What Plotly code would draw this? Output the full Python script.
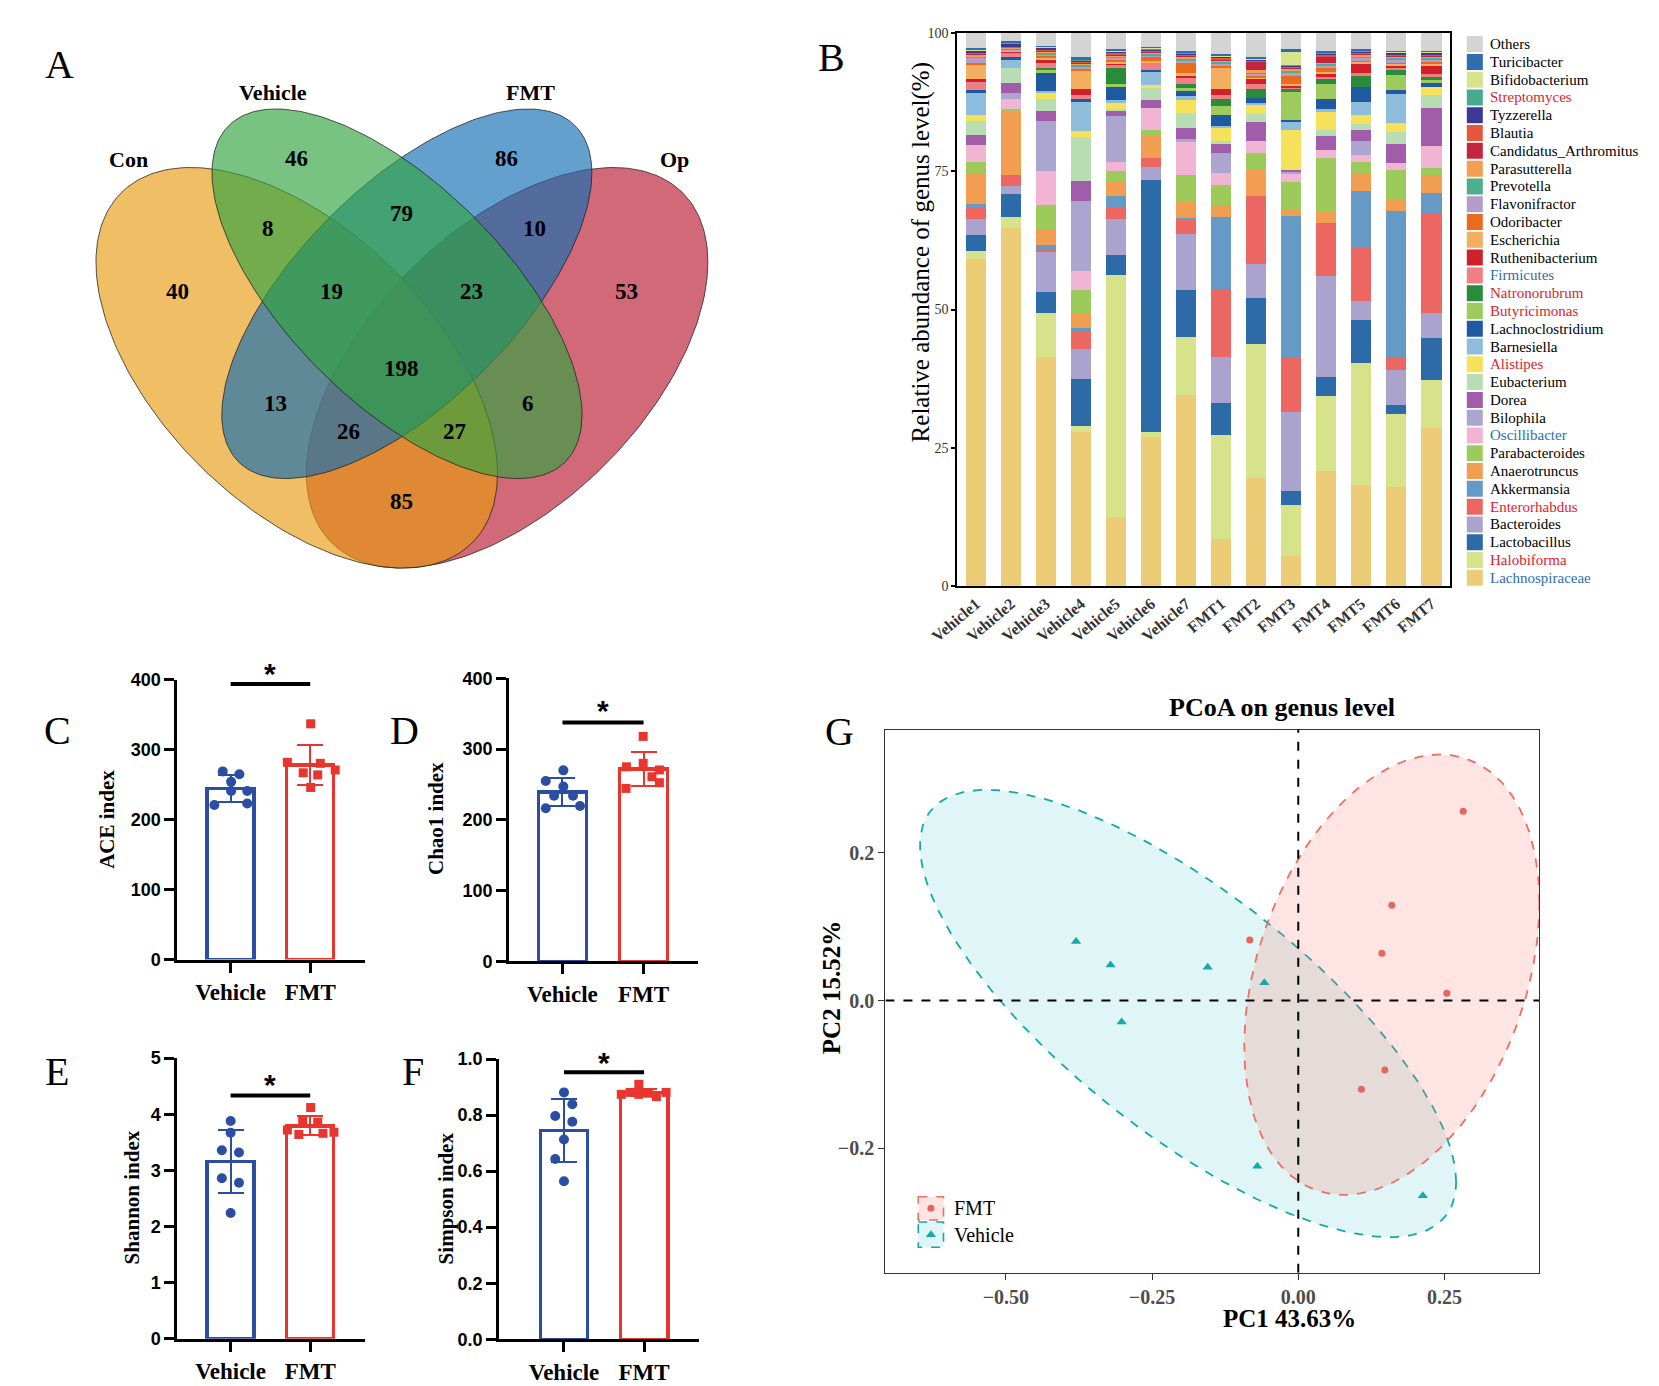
import numpy as np
import plotly.graph_objects as go

W, H = 1659, 1386
SERIF = "Liberation Serif"
SANS = "Liberation Sans"


def fx(p):
    return p / W


def fy(p):
    return 1 - p / H


def to_paper(v, dom, rng):
    return dom[0] + (v - rng[0]) / (rng[1] - rng[0]) * (dom[1] - dom[0])


# ======================= DATA =======================
# ---- Panel A : Venn diagram ----
venn_sets = ["Con", "Vehicle", "FMT", "Op"]
venn_regions = ["Con", "Vehicle", "FMT", "Op", "Con&Vehicle", "Vehicle&FMT", "FMT&Op",
                "Con&Vehicle&FMT", "Vehicle&FMT&Op", "All", "Con&FMT", "Vehicle&Op",
                "Con&FMT&Op", "Con&Vehicle&Op", "Con&Op"]
venn_counts = [40, 46, 86, 53, 8, 79, 10, 19, 23, 198, 13, 6, 26, 27, 85]

# ---- Panel B : genus-level relative abundance (%) ----
samples = ["Vehicle1", "Vehicle2", "Vehicle3", "Vehicle4", "Vehicle5", "Vehicle6", "Vehicle7",
           "FMT1", "FMT2", "FMT3", "FMT4", "FMT5", "FMT6", "FMT7"]
lachnospiraceae = [59.2, 64.7, 41.5, 27.8, 12.5, 27.0, 34.6, 8.6, 19.6, 5.4, 20.8, 18.4, 17.9, 28.6]
halobiforma = [1.3, 2.0, 7.8, 1.1, 43.7, 0.8, 10.5, 18.8, 24.2, 9.3, 13.5, 22.0, 13.2, 8.7]
lactobacillus = [2.9, 4.2, 3.8, 8.5, 3.7, 45.6, 8.5, 5.8, 8.3, 2.5, 3.5, 7.8, 1.6, 7.6]
bacteroides = [3.0, 1.5, 7.3, 5.5, 6.4, 2.4, 10.0, 8.3, 6.1, 14.3, 18.3, 3.3, 6.4, 4.4]
enterorhabdus = [2.2, 2.0, 0.6, 3.4, 2.2, 1.6, 2.5, 12.2, 12.4, 9.7, 9.6, 9.6, 2.1, 17.9]
akkermansia = [0.4, 0.0, 0.7, 0.3, 2.1, 0.0, 0.4, 13.0, 0.0, 25.7, 0.0, 10.3, 26.6, 3.9]
anaerotruncus = [5.6, 11.4, 2.7, 2.6, 2.4, 4.0, 3.1, 2.2, 4.7, 1.1, 2.0, 3.2, 2.0, 3.2]
parabacteroides = [2.0, 0.5, 4.5, 4.4, 2.0, 1.0, 4.8, 3.6, 2.9, 5.1, 9.6, 2.0, 5.5, 1.3]
oscillibacter = [3.2, 1.7, 6.1, 3.3, 1.6, 4.0, 5.9, 2.2, 2.2, 1.6, 1.6, 1.4, 1.2, 4.0]
bilophila = [0.0, 1.2, 9.0, 12.7, 8.4, 0.0, 0.6, 3.5, 0.0, 0.2, 0.0, 2.5, 0.0, 0.0]
dorea = [1.7, 1.7, 1.8, 3.7, 1.0, 1.5, 1.9, 1.7, 3.5, 0.3, 2.5, 1.9, 3.5, 6.8]
eubacterium = [2.6, 2.8, 2.2, 7.8, 0.3, 2.1, 2.8, 0.6, 1.5, 0.0, 1.0, 1.2, 2.1, 2.4]
alistipes = [1.1, 0.0, 1.2, 1.1, 1.1, 0.6, 2.3, 2.4, 1.5, 7.3, 3.5, 1.5, 1.6, 1.4]
barnesiella = [3.9, 1.6, 0.2, 5.3, 0.4, 2.3, 0.6, 0.2, 0.4, 1.4, 0.3, 2.4, 5.2, 0.0]
lachnoclostridium = [0.5, 0.3, 3.4, 0.5, 2.4, 0.4, 1.2, 2.0, 1.0, 0.4, 1.8, 2.7, 0.7, 0.9]
butyricimonas = [0.0, 0.0, 0.5, 0.0, 0.5, 0.0, 0.3, 1.7, 0.0, 5.0, 2.8, 0.0, 2.7, 0.3]
natronorubrum = [0.0, 0.0, 0.4, 0.0, 3.0, 0.0, 0.7, 1.3, 1.6, 0.6, 0.9, 2.0, 1.0, 0.6]
firmicutes = [1.5, 0.9, 0.9, 0.8, 0.4, 1.4, 1.1, 0.6, 0.8, 0.3, 0.3, 0.5, 0.4, 0.5]
ruthenibacterium = [0.5, 0.2, 0.6, 1.0, 0.4, 0.0, 0.6, 1.2, 1.0, 0.3, 0.6, 1.8, 0.4, 1.7]
escherichia = [2.7, 0.1, 0.3, 3.5, 0.3, 0.2, 0.3, 3.9, 0.3, 0.3, 0.3, 0.3, 0.3, 0.3]
odoribacter = [0.3, 0.1, 0.4, 0.2, 0.4, 0.8, 1.8, 0.3, 0.3, 1.6, 0.8, 0.3, 0.3, 0.3]
flavonifractor = [0.8, 0.1, 0.3, 0.3, 0.3, 0.3, 0.4, 0.3, 0.3, 0.3, 0.3, 0.3, 0.3, 0.3]
prevotella = [0.4, 0.2, 0.3, 0.5, 0.3, 0.3, 0.5, 0.4, 0.3, 0.5, 0.4, 0.4, 0.5, 0.4]
parasutterella = [0.3, 0.1, 0.2, 0.2, 0.2, 0.2, 0.3, 0.3, 0.3, 0.3, 0.2, 0.3, 0.3, 0.3]
candidatus_arthromitus = [0.2, 0.1, 0.2, 0.2, 0.2, 0.2, 0.2, 0.2, 1.6, 0.2, 1.0, 0.2, 0.2, 0.2]
blautia = [0.2, 0.1, 0.2, 0.2, 0.2, 0.2, 0.2, 0.2, 0.2, 0.2, 0.5, 0.2, 0.2, 0.2]
tyzzerella = [0.3, 0.6, 0.2, 0.2, 0.2, 0.2, 0.2, 0.2, 0.2, 0.2, 0.2, 0.2, 0.2, 0.2]
streptomyces = [0.1, 0.1, 0.1, 0.1, 0.1, 0.1, 0.1, 0.1, 0.1, 0.1, 0.1, 0.1, 0.1, 0.1]
bifidobacterium = [0.1, 0.1, 0.1, 0.1, 0.1, 0.1, 0.1, 0.1, 0.1, 2.4, 0.1, 0.1, 0.1, 0.1]
turicibacter = [0.3, 0.2, 0.2, 0.3, 0.2, 0.2, 0.2, 0.2, 0.2, 0.4, 0.2, 0.2, 0.2, 0.2]
others = [2.7, 1.5, 2.3, 4.4, 3.0, 2.5, 3.2, 3.9, 4.4, 3.0, 3.3, 2.9, 3.2, 3.2]

# stacking order, bottom -> top
genus_names = ["Lachnospiraceae", "Halobiforma", "Lactobacillus", "Bacteroides", "Enterorhabdus",
               "Akkermansia", "Anaerotruncus", "Parabacteroides", "Oscillibacter", "Bilophila",
               "Dorea", "Eubacterium", "Alistipes", "Barnesiella", "Lachnoclostridium",
               "Butyricimonas", "Natronorubrum", "Firmicutes", "Ruthenibacterium", "Escherichia",
               "Odoribacter", "Flavonifractor", "Prevotella", "Parasutterella",
               "Candidatus_Arthromitus", "Blautia", "Tyzzerella", "Streptomyces",
               "Bifidobacterium", "Turicibacter", "Others"]
genus_values = [lachnospiraceae, halobiforma, lactobacillus, bacteroides, enterorhabdus,
                akkermansia, anaerotruncus, parabacteroides, oscillibacter, bilophila,
                dorea, eubacterium, alistipes, barnesiella, lachnoclostridium,
                butyricimonas, natronorubrum, firmicutes, ruthenibacterium, escherichia,
                odoribacter, flavonifractor, prevotella, parasutterella,
                candidatus_arthromitus, blautia, tyzzerella, streptomyces,
                bifidobacterium, turicibacter, others]

# ---- Panels C-F : alpha diversity (individual samples) ----
groups = ["Vehicle", "FMT"]
ace_vehicle = [269, 265, 254, 241, 241, 221, 223]
ace_fmt = [337, 282, 280.5, 267, 271, 264, 246]
chao1_vehicle = [270, 255, 247, 234, 234, 216.5, 219.6]
chao1_fmt = [318, 275, 280, 270.6, 261, 244.5, 252.5]
shannon_vehicle = [3.88, 3.67, 3.36, 3.32, 2.86, 2.78, 2.24]
shannon_fmt = [4.12, 3.88, 3.86, 3.72, 3.68, 3.64, 3.66]
simpson_vehicle = [0.881, 0.839, 0.797, 0.776, 0.713, 0.643, 0.564]
simpson_fmt = [0.910, 0.874, 0.881, 0.878, 0.881, 0.866, 0.874]

# ---- Panel G : PCoA coordinates ----
pc1_fmt = [-0.083, 0.160, 0.143, 0.254, 0.148, 0.108, 0.282]
pc2_fmt = [0.082, 0.129, 0.064, 0.010, -0.094, -0.120, 0.256]
pc1_vehicle = [-0.380, -0.321, -0.155, -0.302, -0.058, -0.070, 0.213]
pc2_vehicle = [0.080, 0.048, 0.045, -0.029, 0.024, -0.224, -0.264]

# ======================= STYLE / GEOMETRY =======================
genus_colors = ["#EDCC78", "#D6E38A", "#2D6AA8", "#AAA3CE", "#EC6761", "#6599C6", "#F29E52",
                "#9CCB5B", "#F1B5D3", "#ABA5CF", "#A15DA9", "#B9DDB3", "#F6E15A", "#8EBCDB",
                "#1F5AA0", "#9DCB5D", "#2A8C3B", "#EE8085", "#D0202A", "#F3AE60", "#EA6A1E",
                "#B49DCB", "#4CAF8E", "#F29F53", "#C3253F", "#E4573C", "#3C3893", "#47A98E",
                "#D8E48B", "#2E6DAE", "#D4D4D4"]
RED_TXT, BLUE_TXT = "#E3222A", "#2C6DB4"
label_color = {"Streptomyces": RED_TXT, "Natronorubrum": RED_TXT, "Butyricimonas": RED_TXT,
               "Alistipes": RED_TXT, "Enterorhabdus": RED_TXT, "Halobiforma": RED_TXT,
               "Firmicutes": BLUE_TXT, "Oscillibacter": BLUE_TXT, "Lachnospiraceae": BLUE_TXT}

# Venn ellipses: centre and shape matrix in figure pixels (y downward)
VENN_GEOM = {
    "Con": (265.2, 354.9, 41700, 41290, 21900),
    "Vehicle": (367.2, 279.8, 35420, 35160, 23100),
    "FMT": (377.2, 279.8, 35420, 35160, -23100),
    "Op": (479.2, 354.9, 41700, 41290, -21900),
}
VENN_FILL = {"Con": "rgba(232,155,17,0.65)", "Vehicle": "rgba(48,163,63,0.65)",
             "FMT": "rgba(17,109,178,0.65)", "Op": "rgba(186,25,48,0.65)"}
VENN_DRAW_ORDER = ["Op", "Con", "FMT", "Vehicle"]
VENN_REGION_XY = [(143.5, 278), (264.6, 142.4), (478.5, 142.4), (600.5, 278),
                  (235.9, 213.5), (372.2, 198.8), (507.2, 213.5), (300.5, 278),
                  (442.6, 278), (372.2, 355.5), (243.1, 391.2), (500.0, 391.2),
                  (318.2, 419.7), (425.8, 419.7), (372.2, 490.2)]
VENN_SET_XY = [(94.3, 143.1), (240.7, 75.4), (503.3, 75.4), (649.3, 143.1)]

BLUE_G, RED_G = "#2B4DA2", "#E8362F"
TEAL, SALMON = "#17A9A9", "#E4675E"

# PCoA 95% ellipses: centre and shape matrix in data units
PCOA_ELL = {
    "Vehicle": (-0.1885, -0.0175, 0.2102, 0.0915, -0.1043),
    "FMT": (0.160, 0.035, 0.0637, 0.0887, 0.0244),
}


def ellipse_xy(cx, cy, sxx, syy, sxy, n=240):
    t = np.linspace(0, 2 * np.pi, n)
    l11 = np.sqrt(sxx)
    l21 = sxy / l11
    l22 = np.sqrt(syy - l21 ** 2)
    return cx + l11 * np.cos(t), cy + l21 * np.cos(t) + l22 * np.sin(t)


fig = go.Figure()
annotations = []
shapes = []
axes = {}


def paper_text(x, y, text, size, family=SERIF, angle=0, color="black"):
    annotations.append(dict(x=fx(x), y=fy(y), xref="paper", yref="paper", text=text,
                            textangle=angle, showarrow=False, xanchor="center", yanchor="middle",
                            font=dict(family=family, size=size, color=color)))


def hidden_axis(domain, rng, anchor):
    return dict(domain=domain, range=rng, anchor=anchor, visible=False, fixedrange=True,
                showgrid=False, zeroline=False)


# ======================= PANEL A =======================
axes["xaxis"] = hidden_axis([0, fx(750)], [0, 750], "y")
axes["yaxis"] = hidden_axis([fy(580), fy(40)], [580, 40], "x")
for s in VENN_DRAW_ORDER:
    ex, ey = ellipse_xy(*VENN_GEOM[s])
    fig.add_trace(go.Scatter(x=ex, y=ey, mode="lines", fill="toself", fillcolor=VENN_FILL[s],
                             line=dict(color="rgba(30,30,30,0.75)", width=1),
                             xaxis="x", yaxis="y", hoverinfo="skip", showlegend=False))
for cnt, (x, y) in zip(venn_counts, VENN_REGION_XY):
    annotations.append(dict(x=x, y=y, xref="x", yref="y", text=f"<b>{cnt}</b>", showarrow=False,
                            xanchor="center", yanchor="middle",
                            font=dict(family=SERIF, size=23, color="black")))
for s, (x, y) in zip(venn_sets, VENN_SET_XY):
    annotations.append(dict(x=x, y=y, xref="x", yref="y", text=f"<b>{s}</b>", showarrow=False,
                            xanchor="center", yanchor="middle",
                            font=dict(family=SERIF, size=22, color="black")))

# ======================= PANEL B =======================
xpos = np.arange(len(samples))
for name, vals, col in zip(genus_names, genus_values, genus_colors):
    fig.add_trace(go.Bar(x=xpos, y=vals, name=name, width=0.59,
                         marker=dict(color=col, line=dict(width=0)),
                         xaxis="x2", yaxis="y2", showlegend=False, hoverinfo="skip"))
axes["xaxis2"] = dict(domain=[fx(937), fx(1438)], range=[-0.54, 13.53], anchor="y2",
                      showline=True, linecolor="black", linewidth=2, mirror=True,
                      layer="below traces", tickmode="array", tickvals=list(xpos),
                      ticktext=samples, tickangle=-40, ticks="",
                      tickfont=dict(family=SERIF, size=16, color="#333333", weight="bold"),
                      showgrid=False, zeroline=False, fixedrange=True)
axes["yaxis2"] = dict(domain=[fy(576.7), fy(15)], range=[0, 100], anchor="x2",
                      showline=True, linecolor="black", linewidth=2, mirror=True,
                      layer="below traces", tickvals=[0, 25, 50, 75, 100], ticks="outside",
                      ticklen=4, tickwidth=1.5, tickcolor="black",
                      tickfont=dict(family=SERIF, size=14, color="#333333"),
                      showgrid=False, zeroline=False, fixedrange=True)
paper_text(900, 238, "Relative abundance of genus level(%)", 25, angle=-90)

# legend for B (top entry = top of stack)
LEG_TOP, LEG_STEP = 26.5, 18.05
leg_names = genus_names[::-1]
leg_colors = genus_colors[::-1]
axes["xaxis3"] = hidden_axis([fx(1450), 1.0], [0, 209], "y3")
axes["yaxis3"] = hidden_axis([fy(LEG_TOP + 30.5 * LEG_STEP), fy(LEG_TOP - 0.5 * LEG_STEP)],
                             [30.5, -0.5], "x3")
fig.add_trace(go.Scatter(x=[13.5] * len(leg_names), y=list(range(len(leg_names))), mode="markers",
                         marker=dict(symbol="square", size=16, color=leg_colors, line=dict(width=0)),
                         xaxis="x3", yaxis="y3", hoverinfo="skip", showlegend=False))
for i, n in enumerate(leg_names):
    annotations.append(dict(x=27, y=i, xref="x3", yref="y3", xanchor="left", yanchor="middle",
                            text=n, showarrow=False,
                            font=dict(family=SERIF, size=15, color=label_color.get(n, "black"))))


# ======================= PANELS C-F =======================
def alpha_panel(n, xdom, ydom, xrng, yrng, yticks, yticktext, vehicle, fmt, jv, jf,
                sig_y, star_y, title, title_xy):
    xa, ya = f"x{n}", f"y{n}"
    axes[f"xaxis{n}"] = dict(domain=xdom, range=xrng, anchor=ya, showline=True, linecolor="black",
                             linewidth=3, ticks="outside", ticklen=10, tickwidth=3,
                             tickcolor="black", tickvals=[0, 1], ticktext=groups,
                             tickfont=dict(family=SERIF, size=23, color="black", weight="bold"),
                             showgrid=False, zeroline=False, fixedrange=True)
    axes[f"yaxis{n}"] = dict(domain=ydom, range=yrng, anchor=xa, showline=True, linecolor="black",
                             linewidth=3, ticks="outside", ticklen=10, tickwidth=3,
                             tickcolor="black", tickvals=yticks, ticktext=yticktext,
                             tickfont=dict(family=SANS, size=18, color="black", weight="bold"),
                             showgrid=False, zeroline=False, fixedrange=True)
    for i, (vals, jit, col, sym, size) in enumerate(
            [(vehicle, jv, BLUE_G, "circle", 10), (fmt, jf, RED_G, "square", 9)]):
        m = float(np.mean(vals))
        sd = float(np.std(vals, ddof=1))
        fig.add_trace(go.Bar(x=[i], y=[m], width=0.59,
                             marker=dict(color="white", line=dict(color=col, width=3.5)),
                             error_y=dict(type="data", array=[sd], color=col, thickness=2, width=13),
                             xaxis=xa, yaxis=ya, showlegend=False, hoverinfo="skip"))
        fig.add_trace(go.Scatter(x=i + np.array(jit), y=vals, mode="markers",
                                 marker=dict(symbol=sym, size=size, color=col, line=dict(width=0)),
                                 xaxis=xa, yaxis=ya, showlegend=False, hoverinfo="skip",
                                 cliponaxis=False))
    shapes.append(dict(type="line", xref=xa, yref=ya, x0=0, x1=1, y0=sig_y, y1=sig_y,
                       line=dict(color="black", width=4)))
    # significance star (placed in paper space so it may sit above the axis range)
    annotations.append(dict(x=to_paper(0.5, xdom, xrng), y=to_paper(star_y, ydom, yrng),
                            xref="paper", yref="paper", text="<b>*</b>", showarrow=False,
                            xanchor="center", yanchor="middle", yshift=-7,
                            font=dict(family=SANS, size=30, color="black")))
    paper_text(title_xy[0], title_xy[1], f"<b>{title}</b>", 21, angle=-90)


alpha_panel(4, [fx(143.7), fx(334.8)], [fy(955.4), fy(671.4)], [-0.67, 1.69], [0, 400],
            [0, 100, 200, 300, 400], ["0", "100", "200", "300", "400"],
            ace_vehicle, ace_fmt,
            [-0.099, 0.110, 0.006, 0.006, 0.209, -0.204, 0.209],
            [0.006, -0.287, 0.127, -0.088, 0.314, 0.094, 0.006],
            393.7, 418.9, "ACE index", (71.4, 813.4))
alpha_panel(5, [fx(481.3), fx(673.2)], [fy(957.1), fy(670.1)], [-0.657, 1.669], [0, 400],
            [0, 100, 200, 300, 400], ["0", "100", "200", "300", "400"],
            chao1_vehicle, chao1_fmt,
            [0.011, -0.206, 0.011, -0.103, 0.130, -0.206, 0.216],
            [-0.005, -0.211, -0.005, 0.195, 0.103, -0.216, 0.195],
            337.8, 363.9, "Chao1 index", (407.1, 812.5))
alpha_panel(6, [fx(143.7), fx(334.8)], [fy(1340), fy(1055.4)], [-0.67, 1.69], [0, 5],
            [0, 1, 2, 3, 4, 5], ["0", "1", "2", "3", "4", "5"],
            shannon_vehicle, shannon_fmt,
            [0.0, 0.0, -0.11, 0.105, -0.11, 0.105, 0.0],
            [0.006, -0.094, 0.094, -0.287, 0.298, -0.143, 0.16],
            4.334, 4.65, "Shannon index", (97.3, 1197))
alpha_panel(7, [fx(471), fx(674)], [fy(1340.6), fy(1056.3)], [-0.81, 1.68], [0, 1],
            [0, 0.2, 0.4, 0.6, 0.8, 1.0], ["0.0", "0.2", "0.4", "0.6", "0.8", "1.0"],
            simpson_vehicle, simpson_fmt,
            [0.0, 0.104, -0.109, 0.104, 0.0, -0.109, 0.0],
            [-0.066, -0.285, -0.175, 0.055, 0.274, 0.153, -0.066],
            0.953, 1.011, "Simpson index", (417.4, 1197.3))

# ======================= PANEL G =======================
GX, GY = [-0.706, 0.412], [-0.368, 0.366]
for grp, col, fillc in [("Vehicle", TEAL, "rgba(0,170,175,0.12)"),
                        ("FMT", "#EC6F66", "rgba(248,118,109,0.20)")]:
    ex, ey = ellipse_xy(*PCOA_ELL[grp])
    fig.add_trace(go.Scatter(x=ex, y=ey, mode="lines", fill="toself", fillcolor=fillc,
                             line=dict(color=col, width=1.8, dash="dash"),
                             xaxis="x8", yaxis="y8", hoverinfo="skip", showlegend=False))
shapes.append(dict(type="line", xref="x8", yref="y8", x0=0, x1=0, y0=GY[0], y1=GY[1],
                   line=dict(color="black", width=2, dash="dash")))
shapes.append(dict(type="line", xref="x8", yref="y8", x0=GX[0], x1=GX[1], y0=0, y1=0,
                   line=dict(color="black", width=2, dash="dash")))
fig.add_trace(go.Scatter(x=pc1_fmt, y=pc2_fmt, mode="markers",
                         marker=dict(symbol="circle", size=7, color=SALMON),
                         xaxis="x8", yaxis="y8", hoverinfo="skip", showlegend=False))
fig.add_trace(go.Scatter(x=pc1_vehicle, y=pc2_vehicle, mode="markers",
                         marker=dict(symbol="triangle-up", size=9, color=TEAL),
                         xaxis="x8", yaxis="y8", hoverinfo="skip", showlegend=False))
axes["xaxis8"] = dict(domain=[fx(864), fx(1529)], range=GX, anchor="y8", showline=True,
                      linecolor="#333333", linewidth=1.3, mirror=True, ticks="outside", ticklen=6,
                      tickwidth=1.3, tickcolor="#333333", tickvals=[-0.5, -0.25, 0, 0.25],
                      ticktext=["\u22120.50", "\u22120.25", "0.00", "0.25"],
                      tickfont=dict(family=SERIF, size=20, color="#4D4D4D", weight="bold"),
                      showgrid=False, zeroline=False, fixedrange=True)
axes["yaxis8"] = dict(domain=[fy(1273), fy(722.4)], range=GY, anchor="x8", showline=True,
                      linecolor="#333333", linewidth=1.3, mirror=True, ticks="outside", ticklen=6,
                      tickwidth=1.3, tickcolor="#333333", tickvals=[-0.2, 0, 0.2],
                      ticktext=["\u22120.2", "0.0", "0.2"],
                      tickfont=dict(family=SERIF, size=20, color="#4D4D4D", weight="bold"),
                      showgrid=False, zeroline=False, fixedrange=True)
paper_text(1267, 700, "<b>PCoA on genus level</b>", 26)
paper_text(1275, 1320, "<b>PC1 43.63%</b>", 25)
paper_text(809, 984, "<b>PC2 15.52%</b>", 25, angle=-90)

# legend for G
axes["xaxis9"] = hidden_axis([fx(890), fx(1010)], [890, 1010], "y9")
axes["yaxis9"] = hidden_axis([fy(1260), fy(1188)], [1260, 1188], "x9")
for (y0, y1), lcol, fcol, lab in [((1196, 1219.6), "#EC6F66", "rgba(248,118,109,0.20)", "FMT"),
                                  ((1221.6, 1247.3), TEAL, "rgba(0,170,175,0.12)", "Vehicle")]:
    shapes.append(dict(type="rect", xref="x9", yref="y9", x0=897.4, x1=923.1, y0=y0, y1=y1,
                       fillcolor=fcol, line=dict(color=lcol, width=1.6, dash="dash"),
                       layer="below"))
    annotations.append(dict(x=932, y=(y0 + y1) / 2, xref="x9", yref="y9", xanchor="left",
                            yanchor="middle", text=lab, showarrow=False,
                            font=dict(family=SERIF, size=20, color="black")))
fig.add_trace(go.Scatter(x=[910.3], y=[1207.8], mode="markers",
                         marker=dict(symbol="circle", size=7, color=SALMON),
                         xaxis="x9", yaxis="y9", hoverinfo="skip", showlegend=False))
fig.add_trace(go.Scatter(x=[910.3], y=[1234.5], mode="markers",
                         marker=dict(symbol="triangle-up", size=9, color=TEAL),
                         xaxis="x9", yaxis="y9", hoverinfo="skip", showlegend=False))

# ======================= PANEL LETTERS =======================
for letter, (x, y) in {"A": (24, 47), "B": (809, 40), "C": (22.3, 722.8), "D": (375, 722.8),
                       "E": (21.4, 1068.8), "F": (383.9, 1068.8), "G": (817.8, 723.7)}.items():
    paper_text(x, y, letter, 40)

fig.update_layout(width=W, height=H, margin=dict(l=0, r=0, t=0, b=0),
                  paper_bgcolor="white", plot_bgcolor="white", barmode="stack",
                  showlegend=False, hovermode=False, annotations=annotations, shapes=shapes,
                  **axes)
fig.write_html("out.html")
